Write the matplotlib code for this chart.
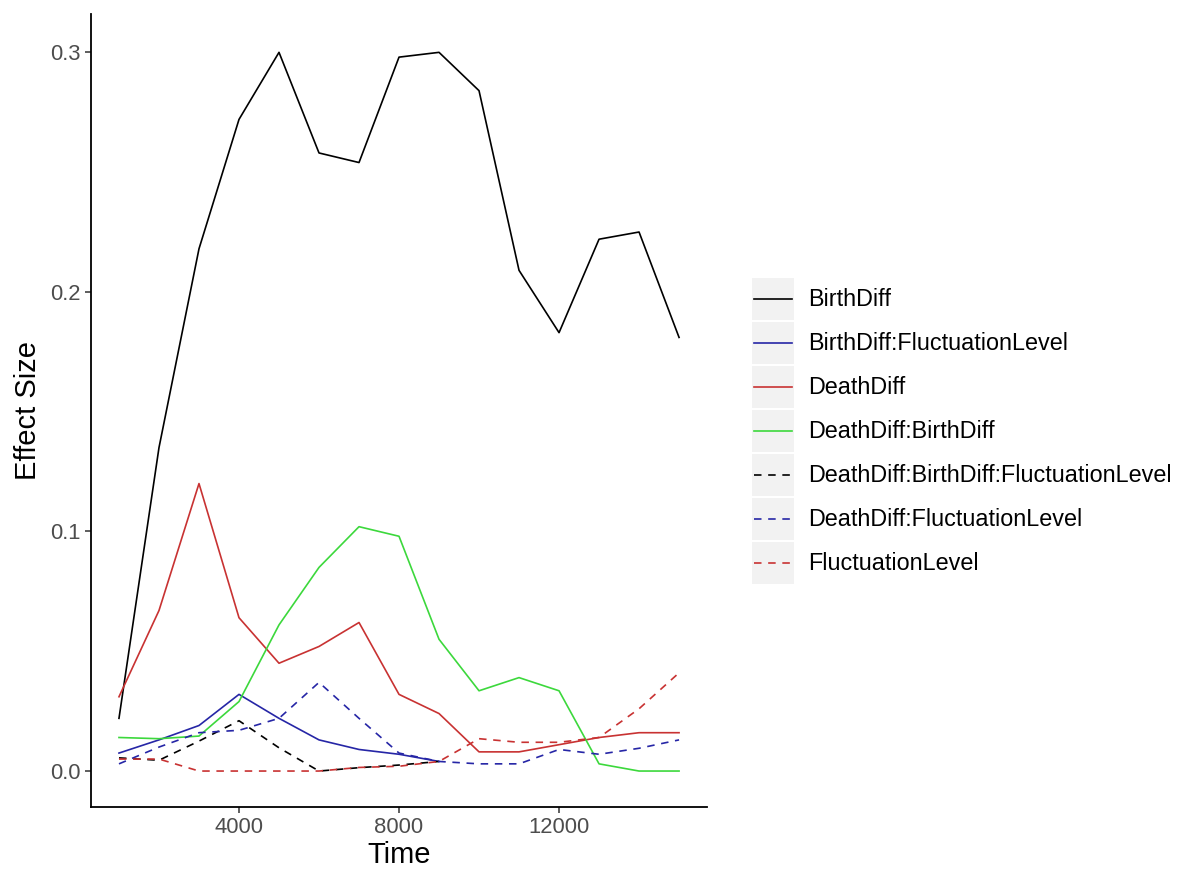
import numpy as np
import matplotlib
matplotlib.use("Agg")
import matplotlib.pyplot as plt
from matplotlib.patches import Rectangle
from matplotlib.lines import Line2D

plt.rcParams['font.family'] = ['Liberation Sans', 'DejaVu Sans']

# data
time = [1000, 2000, 3000, 4000, 5000, 6000, 7000, 8000,
        9000, 10000, 11000, 12000, 13000, 14000, 15000]
nan = np.nan

birth_diff = [0.022, 0.135, 0.218, 0.272, 0.300, 0.258, 0.254, 0.298,
              0.300, 0.284, 0.209, 0.183, 0.222, 0.225, 0.181]
birth_fluct = [0.0075, 0.013, 0.019, 0.032, 0.022, 0.013, 0.009, 0.007,
               0.004, nan, nan, nan, nan, nan, nan]
death_diff = [0.031, 0.067, 0.120, 0.064, 0.045, 0.052, 0.062, 0.032,
              0.024, 0.008, 0.008, 0.011, 0.014, 0.016, 0.016]
death_birth = [0.014, 0.0135, 0.0146, 0.029, 0.061, 0.085, 0.102, 0.098,
               0.055, 0.0335, 0.039, 0.0335, 0.003, 0.0, 0.0]
death_birth_fluct = [0.0055, 0.0045, 0.0125, 0.021, 0.0097, 0.0, 0.0014, 0.0025,
                     0.004, nan, nan, nan, nan, nan, nan]
death_fluct = [0.003, 0.010, 0.016, 0.017, 0.022, 0.037, 0.022, 0.0075,
               0.004, 0.003, 0.003, 0.009, 0.007, 0.0095, 0.013]
fluct_level = [0.005, 0.005, 0.0, 0.0, 0.0, 0.0, 0.0015, 0.002,
               0.004, 0.0135, 0.012, 0.012, 0.014, 0.026, 0.041]

names = ["BirthDiff", "BirthDiff:FluctuationLevel", "DeathDiff", "DeathDiff:BirthDiff",
         "DeathDiff:BirthDiff:FluctuationLevel", "DeathDiff:FluctuationLevel",
         "FluctuationLevel"]
series = [birth_diff, birth_fluct, death_diff, death_birth,
          death_birth_fluct, death_fluct, fluct_level]
colors = ["#000000", "#2626A6", "#C83232", "#3CD83C", "#000000", "#2626A6", "#C83232"]
styles = ["solid", "solid", "solid", "solid", "dashed", "dashed", "dashed"]

fig = plt.figure(figsize=(11.8, 8.76), dpi=100)
ax = fig.add_axes([0.0771, 0.0788, 0.5221, 0.9052])

for vals, col, ls in zip(series, colors, styles):
    if ls == "dashed":
        ax.plot(time, vals, color=col, lw=1.2, dashes=(4.5, 4))
    else:
        ax.plot(time, vals, color=col, lw=1.2)

ax.set_xlim(300, 15700)
ax.set_ylim(-0.015, 0.316)
ax.set_xticks([4000, 8000, 12000])
ax.set_yticks([0.0, 0.1, 0.2, 0.3])
ax.set_yticklabels(["0.0", "0.1", "0.2", "0.3"])
for s in ["top", "right"]:
    ax.spines[s].set_visible(False)
for s in ["left", "bottom"]:
    ax.spines[s].set_linewidth(1.3)
ax.tick_params(colors="#333333", labelcolor="#4D4D4D", labelsize=15.8,
               length=4, width=1.1)
ax.set_xlabel("Time", fontsize=21, labelpad=2)
ax.set_ylabel("Effect Size", fontsize=21, labelpad=6)

# legend in ggplot style, grey key boxes
lax = fig.add_axes([0, 0, 1, 1], facecolor="none")
lax.set_xlim(0, 1180)
lax.set_ylim(876, 0)
lax.axis("off")
top = 278
row = 44
for i, (name, col, ls) in enumerate(zip(names, colors, styles)):
    y0 = top + i * row
    lax.add_patch(Rectangle((752, y0), 42, 42, facecolor="#F2F2F2", edgecolor="none"))
    ln = Line2D([754, 792], [y0 + 21, y0 + 21], color=col, lw=1.2)
    if ls == "dashed":
        ln.set_dashes((4.5, 4))
    lax.add_line(ln)
    lax.text(808, y0 + 21, name, fontsize=16.8, color="#000000", va="center", ha="left")

fig.savefig("out.png", dpi=100)
